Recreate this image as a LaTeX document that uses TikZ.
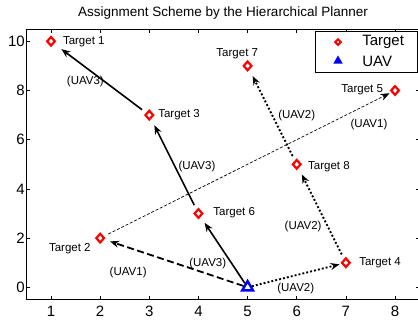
\documentclass[tikz,border=0pt]{standalone}
\usepackage{fontspec}
\setmainfont{Liberation Sans}
\usetikzlibrary{shapes.geometric,arrows.meta}

\begin{document}
\begin{tikzpicture}[x=49.14bp,y=24.6bp,
    target/.style={diamond,draw=red,line width=2.2bp,fill=white,inner sep=0pt,
      minimum width=8.6bp,minimum height=9.6bp},
    uavmark/.style={regular polygon,regular polygon sides=3,draw=blue,line width=2.4bp,
      fill=white,inner sep=0pt,minimum size=12.5bp},
    tlabel/.style={font=\fontsize{11.5bp}{13bp}\selectfont,inner sep=0pt},
    rlabel/.style={font=\fontsize{11.5bp}{13bp}\selectfont,inner sep=0pt},
    ticklabel/.style={font=\fontsize{15bp}{17bp}\selectfont,inner sep=0pt},
    tip/.style={-{Stealth[length=9bp,width=7bp]}},
    uavone/.style={tip,line width=1.8bp,dash pattern=on 7bp off 3.5bp,shorten >=6bp},
    uavonethin/.style={tip,line width=0.7bp,dash pattern=on 3bp off 1.8bp,shorten <=5bp,shorten >=2bp},
    uavtwo/.style={tip,line width=1.9bp,dash pattern=on 1.9bp off 2.1bp,shorten >=7bp},
    uavthree/.style={tip,line width=1.6bp,shorten >=7bp}]
  \useasboundingbox (-0.0379,-1.329) rectangle (8.468,11.679);

  % axes box and ticks
  \draw [line width=0.9bp] (0.5,-0.5) rectangle (8.5,10.49);
  \foreach \i in {1,...,8} {
    \draw [line width=0.6bp] (\i,-0.5) -- ++(0,3.5bp);
    \draw [line width=0.6bp] (\i,10.49) -- ++(0,-3.5bp);
    \node [ticklabel] at (\i,-0.96) {\i};
  }
  \foreach \j in {0,2,...,10} {
    \draw [line width=0.6bp] (0.5,\j) -- ++(4bp,0);
    \draw [line width=0.6bp] (8.5,\j) -- ++(-4bp,0);
    \node [ticklabel,anchor=east] at (0.47,\j) {\j};
  }

  % title
  \node [font=\fontsize{13.5bp}{16bp}\selectfont] (title) at (4.5,11.17)
    {Assignment Scheme by the Hierarchical Planner};

  % targets and UAV
  \node [target] (t1) at (1,10) {};
  \node [target] (t2) at (2,2) {};
  \node [target] (t3) at (3,7) {};
  \node [target] (t4) at (7,1) {};
  \node [target] (t5) at (8,8) {};
  \node [target] (t6) at (4,3) {};
  \node [target] (t7) at (5,9) {};
  \node [target] (t8) at (6,5) {};
  \node [uavmark] (uav) at (5,0) {};

  \node [tlabel,anchor=west] (n1) at (1.24,10) {Target 1};
  \node [tlabel,anchor=east] (n2) at (1.81,1.56) {Target 2};
  \node [tlabel,anchor=west] (n3) at (3.18,7) {Target 3};
  \node [tlabel,anchor=west] (n4) at (7.27,1) {Target 4};
  \node [tlabel,anchor=east] (n5) at (7.76,8.02) {Target 5};
  \node [tlabel,anchor=west] (n6) at (4.30,3.04) {Target 6};
  \node [tlabel] (n7) at (4.79,9.5) {Target 7};
  \node [tlabel,anchor=west] (n8) at (6.23,4.9) {Target 8};

  % UAV1 route
  \draw [uavone] (uav) -- (t2);
  \draw [uavonethin] (t2) -- (t5);
  \node [rlabel] (r11) at (2.57,0.62) {(UAV1)};
  \node [rlabel] (r12) at (7.47,6.63) {(UAV1)};

  % UAV2 route
  \draw [uavtwo,shorten >=2bp] (uav) -- (t4);
  \draw [uavtwo,shorten <=5bp] (t4) -- (t8);
  \draw [uavtwo,shorten <=5bp] (t8) -- (t7);
  \node [rlabel] (r21) at (5.98,-0.04) {(UAV2)};
  \node [rlabel] (r22) at (6.13,2.49) {(UAV2)};
  \node [rlabel] (r23) at (6.0,7.0) {(UAV2)};

  % UAV3 route
  \draw [uavthree] (uav) -- (t6);
  \draw [uavthree,shorten <=5bp] (t6) -- (t3);
  \draw [uavthree,shorten <=5bp,shorten >=9bp] (t3) -- (t1);
  \node [rlabel] (r31) at (4.19,0.95) {(UAV3)};
  \node [rlabel] (r32) at (3.97,4.9) {(UAV3)};
  \node [rlabel] (r33) at (1.70,8.35) {(UAV3)};

  % legend
  \draw [line width=1bp,fill=white] (6.39,8.75) rectangle (8.448,10.38);
  \node [diamond,draw=red,line width=2bp,fill=white,inner sep=0pt,minimum size=6.5bp] (lt) at (6.84,9.97) {};
  \node [regular polygon,regular polygon sides=3,fill=blue,inner sep=0pt,minimum size=11bp] (lu) at (6.84,9.2) {};
  \node [font=\fontsize{15bp}{17bp}\selectfont,anchor=west,inner sep=0pt] (ltt) at (7.33,9.97) {Target};
  \node [font=\fontsize{15bp}{17bp}\selectfont,anchor=west,inner sep=0pt] (lut) at (7.33,9.2) {UAV};
\end{tikzpicture}
\end{document}
